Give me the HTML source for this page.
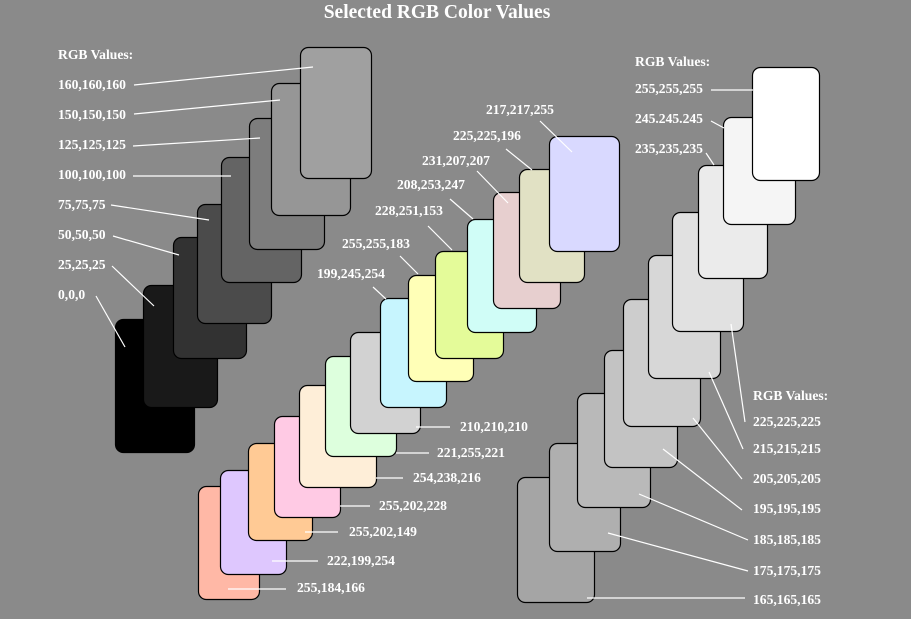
<!DOCTYPE html>
<html><head><meta charset="utf-8"><style>
html,body{margin:0;padding:0;background:#8a8a8a;}
svg{display:block;}
text{font-family:"Liberation Serif",serif;font-weight:bold;fill:#fff;font-size:13.6px;}
rect{stroke:#000;stroke-width:1.2;}
line{stroke:#fff;stroke-width:1.2;}
</style></head><body>
<svg width="911" height="619" viewBox="0 0 911 619" xmlns="http://www.w3.org/2000/svg">
<rect x="0" y="0" width="911" height="619" fill="#8a8a8a" style="stroke:none"/>
<text x="437" y="18" text-anchor="middle" style="font-size:19.5px">Selected RGB Color Values</text>

<!-- gray group -->
<rect x="115.5" y="319.5" width="79" height="133" rx="8" fill="#000"/>
<rect x="143.5" y="285.5" width="74" height="122" rx="8" fill="#191919"/>
<rect x="173.5" y="237.5" width="73" height="121" rx="8" fill="#323232"/>
<rect x="197.5" y="204.5" width="74" height="119" rx="8" fill="#4b4b4b"/>
<rect x="221.5" y="157.5" width="80" height="125" rx="8" fill="#646464"/>
<rect x="249.5" y="118.5" width="75" height="131" rx="8" fill="#7d7d7d"/>
<rect x="271.5" y="83.5" width="79" height="132" rx="8" fill="#969696"/>
<rect x="300.5" y="47.5" width="71" height="131" rx="8" fill="#a0a0a0"/>
<text x="58" y="59">RGB Values:</text>
<text x="58" y="89">160,160,160</text><line x1="134" y1="85" x2="313" y2="67"/>
<text x="58" y="119">150,150,150</text><line x1="134" y1="114" x2="280" y2="100"/>
<text x="58" y="149">125,125,125</text><line x1="133" y1="146" x2="260" y2="138"/>
<text x="58" y="179">100,100,100</text><line x1="133" y1="176" x2="231" y2="176"/>
<text x="58" y="209">75,75,75</text><line x1="111" y1="205" x2="209" y2="220"/>
<text x="58" y="239">50,50,50</text><line x1="113" y1="236" x2="179" y2="255"/>
<text x="58" y="269">25,25,25</text><line x1="112" y1="266" x2="154" y2="306"/>
<text x="58" y="299">0,0,0</text><line x1="96" y1="296" x2="125" y2="347"/>

<!-- pastel group -->
<rect x="198.5" y="486.5" width="61" height="113" rx="8" fill="rgb(255,184,166)"/>
<rect x="220.5" y="470.5" width="66" height="104" rx="8" fill="rgb(222,199,254)"/>
<rect x="248.5" y="443.5" width="64" height="97" rx="8" fill="rgb(255,202,149)"/>
<rect x="274.5" y="416.5" width="66" height="101" rx="8" fill="rgb(255,202,228)"/>
<rect x="299.5" y="385.5" width="77" height="102" rx="8" fill="rgb(254,238,216)"/>
<rect x="325.5" y="356.5" width="71" height="100" rx="8" fill="rgb(221,255,221)"/>
<rect x="350.5" y="332.5" width="70" height="101" rx="8" fill="rgb(210,210,210)"/>
<rect x="380.5" y="298.5" width="66" height="109" rx="8" fill="rgb(199,245,254)"/>
<rect x="408.5" y="275.5" width="65" height="106" rx="8" fill="rgb(255,255,183)"/>
<rect x="435.5" y="251.5" width="68" height="107" rx="8" fill="rgb(228,251,153)"/>
<rect x="467.5" y="219.5" width="69" height="113" rx="8" fill="rgb(208,253,247)"/>
<rect x="493.5" y="192.5" width="67" height="116" rx="8" fill="rgb(231,207,207)"/>
<rect x="519.5" y="169.5" width="65" height="113" rx="8" fill="rgb(225,225,196)"/>
<rect x="549.5" y="136.5" width="70" height="115" rx="8" fill="rgb(217,217,255)"/>
<text x="297" y="592">255,184,166</text><line x1="228" y1="589" x2="286" y2="589"/>
<text x="327" y="565">222,199,254</text><line x1="272" y1="561" x2="318" y2="561"/>
<text x="349" y="536">255,202,149</text><line x1="305" y1="532" x2="338" y2="532"/>
<text x="379" y="510">255,202,228</text><line x1="340" y1="506" x2="370" y2="506"/>
<text x="413" y="482">254,238,216</text><line x1="376" y1="478" x2="403" y2="478"/>
<text x="437" y="457">221,255,221</text><line x1="396" y1="453" x2="429" y2="453"/>
<text x="460" y="431">210,210,210</text><line x1="416" y1="427" x2="450" y2="427"/>
<text x="317" y="278">199,245,254</text><line x1="373" y1="287" x2="386" y2="299"/>
<text x="342" y="248">255,255,183</text><line x1="400" y1="256" x2="418" y2="274"/>
<text x="375" y="215">228,251,153</text><line x1="428" y1="226" x2="452" y2="250"/>
<text x="397" y="189">208,253,247</text><line x1="450" y1="199" x2="473" y2="219"/>
<text x="422" y="165">231,207,207</text><line x1="477" y1="171" x2="508" y2="203"/>
<text x="453" y="140">225,225,196</text><line x1="506" y1="149" x2="532" y2="170"/>
<text x="486" y="114">217,217,255</text><line x1="540" y1="121" x2="572" y2="152"/>

<!-- light gray group -->
<rect x="517.5" y="477.5" width="77" height="125" rx="8" fill="rgb(165,165,165)"/>
<rect x="549.5" y="443.5" width="71" height="108" rx="8" fill="rgb(175,175,175)"/>
<rect x="577.5" y="393.5" width="73" height="114" rx="8" fill="rgb(185,185,185)"/>
<rect x="604.5" y="350.5" width="73" height="117" rx="8" fill="rgb(195,195,195)"/>
<rect x="623.5" y="299.5" width="77" height="127" rx="8" fill="rgb(205,205,205)"/>
<rect x="648.5" y="255.5" width="72" height="123" rx="8" fill="rgb(215,215,215)"/>
<rect x="672.5" y="212.5" width="71" height="119" rx="8" fill="rgb(225,225,225)"/>
<rect x="698.5" y="165.5" width="69" height="113" rx="8" fill="rgb(235,235,235)"/>
<rect x="723.5" y="117.5" width="72" height="107" rx="8" fill="rgb(245,245,245)"/>
<rect x="752.5" y="67.5" width="67" height="113" rx="8" fill="rgb(255,255,255)"/>
<text x="635" y="66">RGB Values:</text>
<text x="635" y="93">255,255,255</text><line x1="711" y1="90" x2="753" y2="90"/>
<text x="635" y="123">245.245.245</text><line x1="711" y1="121" x2="724" y2="128"/>
<text x="635" y="153">235,235,235</text><line x1="706" y1="153" x2="714" y2="165"/>
<text x="753" y="400">RGB Values:</text>
<text x="753" y="426">225,225,225</text><line x1="731" y1="324" x2="745" y2="422"/>
<text x="753" y="453">215,215,215</text><line x1="709" y1="372" x2="743" y2="449"/>
<text x="753" y="483">205,205,205</text><line x1="693" y1="418" x2="742" y2="479"/>
<text x="753" y="513">195,195,195</text><line x1="663" y1="449" x2="742" y2="510"/>
<text x="753" y="544">185,185,185</text><line x1="639" y1="494" x2="748" y2="540"/>
<text x="753" y="575">175,175,175</text><line x1="608" y1="533" x2="748" y2="571"/>
<text x="753" y="604">165,165,165</text><line x1="587" y1="598" x2="745" y2="598"/>
</svg>
</body></html>
